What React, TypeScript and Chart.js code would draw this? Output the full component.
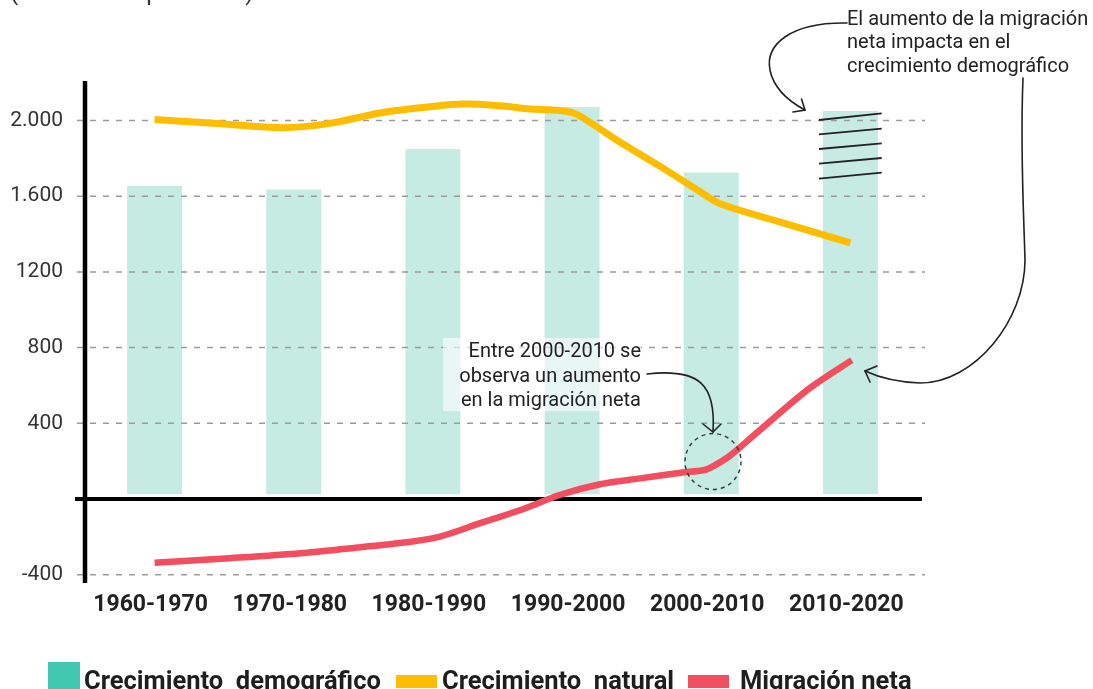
import { useEffect, useRef } from "react";
import { Chart, registerables } from "chart.js";

Chart.register(...registerables);

const categories = ["1960-1970", "1970-1980", "1980-1990", "1990-2000", "2000-2010", "2010-2020"];
const crecimientoDemografico = [1655, 1635, 1850, 2072, 1726, 2050];

const naturalYears = [1965, 1969.5, 1974.2, 1977.6, 1981.2, 1984.8, 1987.2, 1989.8, 1992.0, 1993.6, 1995.1, 1996.4, 1998.4, 2001.5, 2004.2, 2005.6, 2009.9, 2015];
const crecimientoNatural = [2005, 1985, 1962, 1985, 2040, 2073, 2087, 2078, 2061, 2056, 2040, 1985, 1888, 1750, 1624, 1562, 1465, 1354];

const migracionYears = [1965, 1970.4, 1975.5, 1979.8, 1983.4, 1985.5, 1988.4, 1991.3, 1994.1, 1997.0, 1999.9, 2002.8, 2004.5, 2005.3, 2006.4, 2008.5, 2012.1, 2015.1];
const migracionNeta = [-337, -313, -287, -255, -226, -199, -128, -58, 21, 78, 109, 139, 153, 180, 232, 365, 587, 734];

const yTickValues = [-400, 0, 400, 800, 1200, 1600, 2000];
const yTickLabels = ["-400", "", "400", "800", "1200", "1.600", "2.000"];

const legendLabels = ["Crecimiento  demográfico", "Crecimiento  natural", "Migración neta"];
const noteTop = ["El aumento de la migración", "neta impacta en el", "crecimiento demográfico"];
const noteMid = ["Entre 2000-2010 se", "observa un aumento", "en la migración neta"];
const subtitle = "(en miles de personas)";

const BAR = "rgb(197,235,227)";
const TEAL = "#40c8b0";
const YELLOW = "#ffbd00";
const RED = "#f34e5f";
const INK = "#222222";

function arrowHead(ctx: CanvasRenderingContext2D, tip: number[], b1: number[], b2: number[]) {
  ctx.beginPath();
  ctx.moveTo(b1[0], b1[1]);
  ctx.lineTo(tip[0], tip[1]);
  ctx.lineTo(b2[0], b2[1]);
  ctx.stroke();
}

const decorPlugin = {
  id: "decor",
  afterDatasetDraw(chart: any, args: any) {
    if (args.meta.type !== "bar") return;
    const ctx: CanvasRenderingContext2D = chart.ctx;
    const y = chart.scales.y;
    const area = chart.chartArea;
    ctx.save();
    ctx.strokeStyle = "#9b9b9b";
    ctx.lineWidth = 1.5;
    ctx.setLineDash([6, 7]);
    yTickValues.forEach((v) => {
      if (v === 0) return;
      const py = y.getPixelForValue(v);
      ctx.beginPath();
      ctx.moveTo(area.left - 8, py);
      ctx.lineTo(area.right + 5, py);
      ctx.stroke();
    });
    ctx.setLineDash([]);
    ctx.strokeStyle = "#000";
    ctx.lineWidth = 4.5;
    ctx.beginPath();
    ctx.moveTo(area.left, area.top);
    ctx.lineTo(area.left, area.bottom);
    ctx.stroke();
    const y0 = y.getPixelForValue(0);
    ctx.lineWidth = 4;
    ctx.beginPath();
    ctx.moveTo(area.left - 10, y0);
    ctx.lineTo(area.right + 2, y0);
    ctx.stroke();
    ctx.restore();
  },
  afterDatasetsDraw(chart: any) {
    const ctx: CanvasRenderingContext2D = chart.ctx;
    ctx.save();
    // mid note box
    ctx.fillStyle = "rgba(255,255,255,0.6)";
    ctx.fillRect(443, 338, 198, 73);
    ctx.fillStyle = INK;
    ctx.font = "20px Roboto";
    ctx.textAlign = "right";
    ctx.textBaseline = "alphabetic";
    [357, 381.5, 405.5].forEach((by, i) => ctx.fillText(noteMid[i], 641, by));
    ctx.textAlign = "left";
    [24.5, 48, 71.5].forEach((by, i) => ctx.fillText(noteTop[i], 847, by));

    ctx.strokeStyle = INK;
    ctx.lineWidth = 1.6;
    ctx.lineCap = "round";
    // arrow 1
    ctx.beginPath();
    ctx.moveTo(847, 23);
    ctx.bezierCurveTo(790, 22, 765, 45, 770, 70);
    ctx.bezierCurveTo(774, 90, 790, 102, 805, 110);
    ctx.stroke();
    arrowHead(ctx, [805, 110], [801.5, 99], [793, 112]);
    // arrow 2
    ctx.beginPath();
    ctx.moveTo(647, 374);
    ctx.bezierCurveTo(700, 368, 716, 385, 713, 432);
    ctx.stroke();
    arrowHead(ctx, [713, 432], [703, 424], [721, 424]);
    // arrow 3
    ctx.beginPath();
    ctx.moveTo(1023, 78);
    ctx.bezierCurveTo(1020, 150, 1024, 220, 1025, 260);
    ctx.bezierCurveTo(1025, 320, 975, 383, 920, 383);
    ctx.bezierCurveTo(895, 382, 878, 377, 865, 371);
    ctx.stroke();
    arrowHead(ctx, [865, 371], [877, 366], [870, 382]);

    // hatch on last bar
    ctx.lineWidth = 1.8;
    ctx.lineCap = "butt";
    const hatch = [
      [120, 113.3], [134.3, 128.7], [149, 143.3], [163.7, 158], [178.7, 172.7],
    ];
    hatch.forEach(([a, b]) => {
      ctx.beginPath();
      ctx.moveTo(819, a);
      ctx.lineTo(881.7, b);
      ctx.stroke();
    });

    // dashed circle
    ctx.lineWidth = 1.4;
    ctx.strokeStyle = "#333";
    ctx.setLineDash([4, 4]);
    ctx.beginPath();
    ctx.arc(713, 461.5, 28, 0, Math.PI * 2);
    ctx.stroke();
    ctx.setLineDash([]);
    ctx.restore();
  },
  afterDraw(chart: any) {
    const ctx: CanvasRenderingContext2D = chart.ctx;
    ctx.save();
    ctx.fillStyle = "#333";
    ctx.font = "24px Roboto";
    ctx.textAlign = "left";
    ctx.textBaseline = "alphabetic";
    ctx.fillText(subtitle, 10, 0);

    ctx.fillStyle = TEAL;
    ctx.fillRect(48, 662, 32, 32);
    ctx.fillStyle = YELLOW;
    ctx.fillRect(396, 675, 41, 13);
    ctx.fillStyle = RED;
    ctx.fillRect(688, 675, 41, 13);
    ctx.fillStyle = "#1e1e1e";
    ctx.font = "bold 25.5px Roboto";
    ctx.fillText(legendLabels[0], 84, 689);
    ctx.fillText(legendLabels[1], 442, 689);
    ctx.fillText(legendLabels[2], 740, 689);
    ctx.restore();
  },
};

export default function App() {
  const ref = useRef<HTMLCanvasElement | null>(null);
  useEffect(() => {
    if (!ref.current) return;
    Chart.defaults.font.family = "Roboto";
    const chart = new Chart(ref.current, {
      type: "bar",
      data: {
        labels: categories,
        datasets: [
          {
            type: "line",
            label: "Crecimiento natural",
            data: naturalYears.map((x, i) => ({ x, y: crecimientoNatural[i] })),
            xAxisID: "xl",
            yAxisID: "y",
            borderColor: YELLOW,
            backgroundColor: YELLOW,
            borderWidth: 7,
            pointRadius: 0,
            tension: 0.35,
            borderCapStyle: "butt",
            borderJoinStyle: "round",
            order: 2,
          } as any,
          {
            type: "line",
            label: "Migración neta",
            data: migracionYears.map((x, i) => ({ x, y: migracionNeta[i] })),
            xAxisID: "xl",
            yAxisID: "y",
            borderColor: RED,
            backgroundColor: RED,
            borderWidth: 6.5,
            pointRadius: 0,
            tension: 0.3,
            borderCapStyle: "butt",
            borderJoinStyle: "round",
            order: 1,
          } as any,
          {
            type: "bar",
            label: "Crecimiento demográfico",
            data: crecimientoDemografico,
            xAxisID: "x",
            yAxisID: "y",
            backgroundColor: BAR,
            grouped: false,
            barPercentage: 0.395,
            categoryPercentage: 1,
            base: 25,
            order: 3,
          } as any,
        ],
      },
      options: {
        animation: false,
        responsive: false,
        maintainAspectRatio: false,
        events: [],
        layout: { padding: { left: 0, right: 173, top: 81, bottom: 66 } },
        plugins: { legend: { display: false }, tooltip: { enabled: false } },
        scales: {
          x: {
            type: "category",
            offset: true,
            grid: { display: false, drawTicks: false },
            border: { display: false },
            ticks: {
              font: { family: "Roboto", size: 23, weight: "bold" },
              color: "#222",
              padding: 8,
              labelOffset: -4,
              maxRotation: 0,
              autoSkip: false,
            },
            afterFit: (s: any) => {
              s.height = 40;
            },
          },
          xl: {
            type: "linear",
            display: false,
            offset: false,
            grid: { offset: false },
            min: 1960,
            max: 2020,
          },
          y: {
            type: "linear",
            min: -444,
            max: 2209,
            afterBuildTicks: (s: any) => {
              s.ticks = yTickValues.map((v) => ({ value: v }));
            },
            grid: { display: false, drawTicks: false },
            border: { display: false },
            ticks: {
              callback: (_v: any, i: number) => yTickLabels[i] ?? "",
              font: { family: "Roboto", size: 21 },
              color: "#333",
              padding: 22,
            },
            afterFit: (s: any) => {
              s.width = 85;
            },
          },
        } as any,
      },
      plugins: [decorPlugin as any],
    });
    return () => chart.destroy();
  }, []);
  return (
    <div style={{ position: "absolute", left: 0, top: 0, width: 1093, height: 689, background: "#fff" }}>
      <canvas ref={ref} width={1093} height={689} style={{ display: "block" }} />
    </div>
  );
}
